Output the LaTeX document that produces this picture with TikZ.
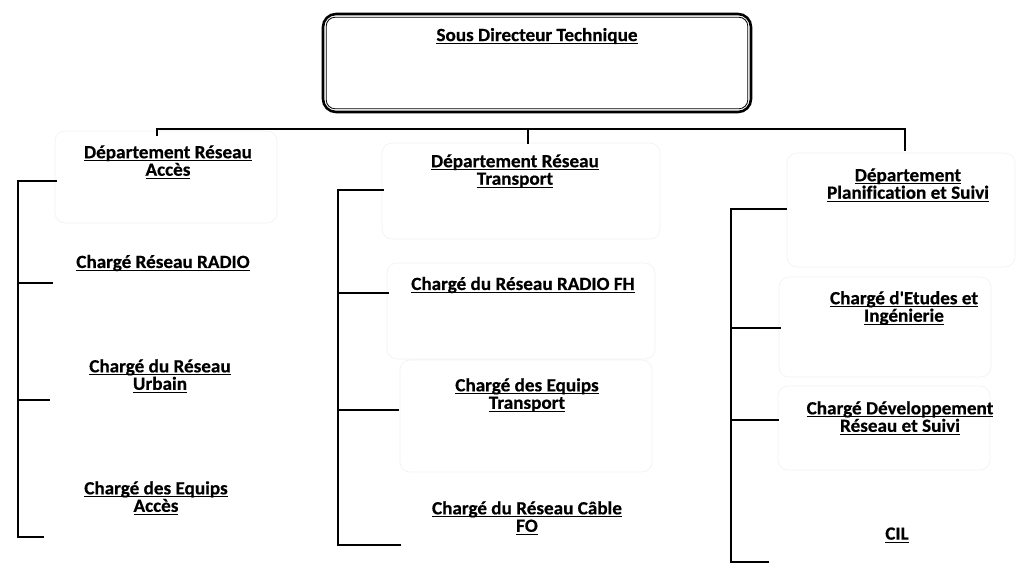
\documentclass[tikz,border=0pt]{standalone}
\usepackage{fontspec}
\setmainfont{Carlito}[Ligatures=NoCommon, FakeStretch=1.03, BoldFeatures={FakeBold=0.6}]
\newsavebox{\ulxbox}
\newcommand{\ulx}[1]{\sbox{\ulxbox}{#1}\rlap{\rule[-2.9pt]{\wd\ulxbox}{1pt}}\usebox{\ulxbox}}
\begin{document}
\begin{tikzpicture}[x=1pt,y=-1pt,
  lbl/.style={font=\bfseries\fontsize{18.6}{17.5}\selectfont, align=center, inner sep=0pt},
  faint/.style={draw=black!6, line width=0.6pt, rounded corners=10pt},
  conn/.style={line width=1.7pt, line cap=rect}]
\useasboundingbox (0,0) rectangle (1018,566);
% top box
\node[draw, line width=2.6pt, rounded corners=13pt, minimum width=428pt, minimum height=98pt] (top) at (537,63) {};
\draw[line width=0.8pt, rounded corners=9pt] ([shift={(4.5pt,4.5pt)}]top.south west) rectangle ([shift={(-4.5pt,-4.5pt)}]top.north east);
\node[lbl] (topt) at (537,36) {\ulx{Sous Directeur Technique}};
% faint boxes
\node[faint, minimum width=222pt, minimum height=92pt] (bL1) at (166,177) {};
\node[faint, minimum width=278pt, minimum height=96pt] (bM1) at (521,191) {};
\node[faint, minimum width=268pt, minimum height=96pt] (bM2) at (521,311) {};
\node[faint, minimum width=252pt, minimum height=112pt] (bM3) at (526,416) {};
\node[faint, minimum width=228pt, minimum height=114pt] (bR1) at (901,210) {};
\node[faint, minimum width=212pt, minimum height=100pt] (bR2) at (885,327) {};
\node[faint, minimum width=212pt, minimum height=84pt] (bR3) at (884,428) {};
% labels
\node[lbl] (L1) at (168,162) {\ulx{Département Réseau}\\\ulx{Accès}};
\node[lbl] (L2) at (163,263) {\ulx{Chargé Réseau RADIO}};
\node[lbl] (L3) at (160,376) {\ulx{Chargé du Réseau}\\\ulx{Urbain}};
\node[lbl] (L4) at (156,498) {\ulx{Chargé des Equips}\\\ulx{Accès}};
\node[lbl] (M1) at (515,171) {\ulx{Département Réseau}\\\ulx{Transport}};
\node[lbl] (M2) at (523,285) {\ulx{Chargé du Réseau RADIO FH}};
\node[lbl] (M3) at (527,395) {\ulx{Chargé des Equips}\\\ulx{Transport}};
\node[lbl] (M4) at (527,518) {\ulx{Chargé du Réseau Câble}\\\ulx{FO}};
\node[lbl] (R1) at (908,185) {\ulx{Département}\\\ulx{Planification et Suivi}};
\node[lbl] (R2) at (904,308) {\ulx{Chargé d\textquotesingle Etudes et}\\\ulx{Ingénierie}};
\node[lbl] (R3) at (900,418) {\ulx{Chargé Développement}\\\ulx{Réseau et Suivi}};
\node[lbl] (R4) at (897,535) {\ulx{CIL}};
% top bar
\coordinate (bl) at (157,129);
\coordinate (bm) at (528,129);
\coordinate (br) at (905,129);
\draw[conn] (bl) -- (br);
\draw[conn] (bl) -- (157,135);
\draw[conn] (bm) -- (528,143);
\draw[conn] (br) -- (905,150);
% left bracket
\coordinate (lx1) at (56,181);
\coordinate (lx2) at (52,283);
\coordinate (lx3) at (49,400);
\coordinate (lx4) at (43,537);
\draw[conn] (lx1) -- (18,181) -- (18,537) -- (lx4);
\draw[conn] (18,283) -- (lx2);
\draw[conn] (18,400) -- (lx3);
% middle bracket
\coordinate (mx1) at (383,190);
\coordinate (mx2) at (388,293);
\coordinate (mx3) at (398,410);
\coordinate (mx4) at (400,545);
\draw[conn] (mx1) -- (338,190) -- (338,545) -- (mx4);
\draw[conn] (338,293) -- (mx2);
\draw[conn] (338,410) -- (mx3);
% right bracket
\coordinate (rx1) at (786,209);
\coordinate (rx2) at (780,328);
\coordinate (rx3) at (778,420);
\coordinate (rx4) at (768,562);
\draw[conn] (rx1) -- (731,209) -- (731,562) -- (rx4);
\draw[conn] (731,328) -- (rx2);
\draw[conn] (731,420) -- (rx3);
\end{tikzpicture}
\end{document}
